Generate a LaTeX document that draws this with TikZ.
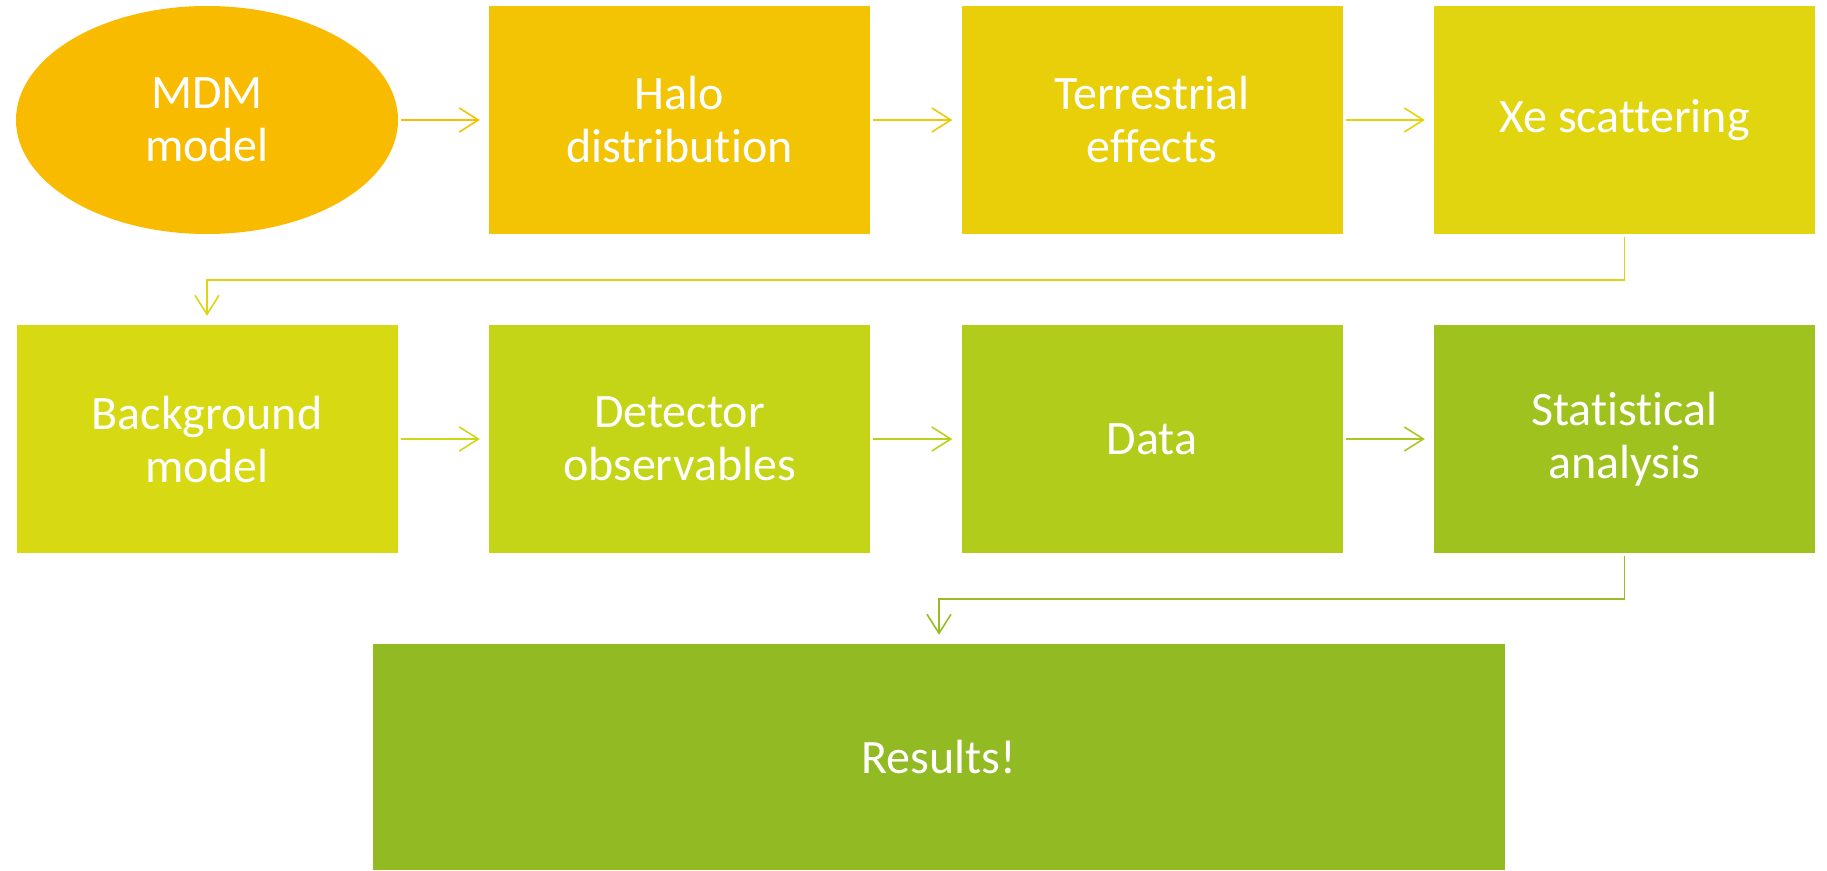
\documentclass[tikz,border=0pt]{standalone}
\usepackage{fontspec}
\setmainfont{Carlito}[Ligatures={NoCommon}]
\usetikzlibrary{shapes.geometric,arrows.meta}
\definecolor{cMDM}{HTML}{F9BB00}
\definecolor{cHalo}{HTML}{F2C404}
\definecolor{cTerr}{HTML}{E8CF0A}
\definecolor{cXe}{HTML}{E1D50F}
\definecolor{cBg}{HTML}{D7D913}
\definecolor{cDet}{HTML}{C4D417}
\definecolor{cData}{HTML}{B2CC1B}
\definecolor{cStat}{HTML}{A0C21F}
\definecolor{cRes}{HTML}{91BA23}
\definecolor{aA}{HTML}{F5BF02}
\definecolor{aB}{HTML}{EDCA08}
\definecolor{aC}{HTML}{E4D20D}
\definecolor{aD}{HTML}{DED512}
\definecolor{aE}{HTML}{CED716}
\definecolor{aF}{HTML}{BBD01A}
\definecolor{aG}{HTML}{A9C71D}
\definecolor{aH}{HTML}{96BD21}
\tikzset{
  x=1pt, y=-1pt,
  lbl/.style={text=white, font=\fontsize{48}{53}\selectfont, align=center, inner sep=0pt},
  stage/.style={lbl, rectangle, minimum width=381pt, minimum height=228pt},
  oval/.style={lbl, ellipse, minimum width=382pt, minimum height=228pt},
  flow/.style={line width=1.6pt, -{Straight Barb[length=19pt,width=24pt]}, shorten <=3pt, shorten >=9pt},
}
\begin{document}
\begin{tikzpicture}
\useasboundingbox (0,0) rectangle (1827,870);
% row 1
\node[oval, fill=cMDM] (mdm) at (207,120) {MDM\\model};
\node[stage, fill=cHalo] (halo) at (679.5,120) {Halo\\distribution};
\node[stage, fill=cTerr] (terr) at (1152,120) {Terrestrial\\effects};
\node[stage, fill=cXe] (xe) at (1624.5,120) {Xe scattering};
% row 2
\node[stage, fill=cBg] (bg) at (207,439) {Background\\model};
\node[stage, fill=cDet] (det) at (679.5,439) {Detector\\observables};
\node[stage, fill=cData] (data) at (1152,439) {Data};
\node[stage, fill=cStat] (stat) at (1624.5,439) {Statistical\\analysis};
% row 3
\node[lbl, rectangle, fill=cRes, minimum width=1132pt, minimum height=226pt] (res) at (939,757) {Results!};
% connectors
\draw[flow, draw=aA] (mdm.east) -- (halo.west);
\draw[flow, draw=aB] (halo.east) -- (terr.west);
\draw[flow, draw=aC] (terr.east) -- (xe.west);
\coordinate (k1) at (1624.5,280);
\draw[flow, draw=aD] (xe.south) -- (k1) -| (bg.north);
\draw[flow, draw=aE] (bg.east) -- (det.west);
\draw[flow, draw=aF] (det.east) -- (data.west);
\draw[flow, draw=aG] (data.east) -- (stat.west);
\coordinate (k2) at (1624.5,599);
\draw[flow, draw=aH] (stat.south) -- (k2) -| (res.north);
\end{tikzpicture}
\end{document}
